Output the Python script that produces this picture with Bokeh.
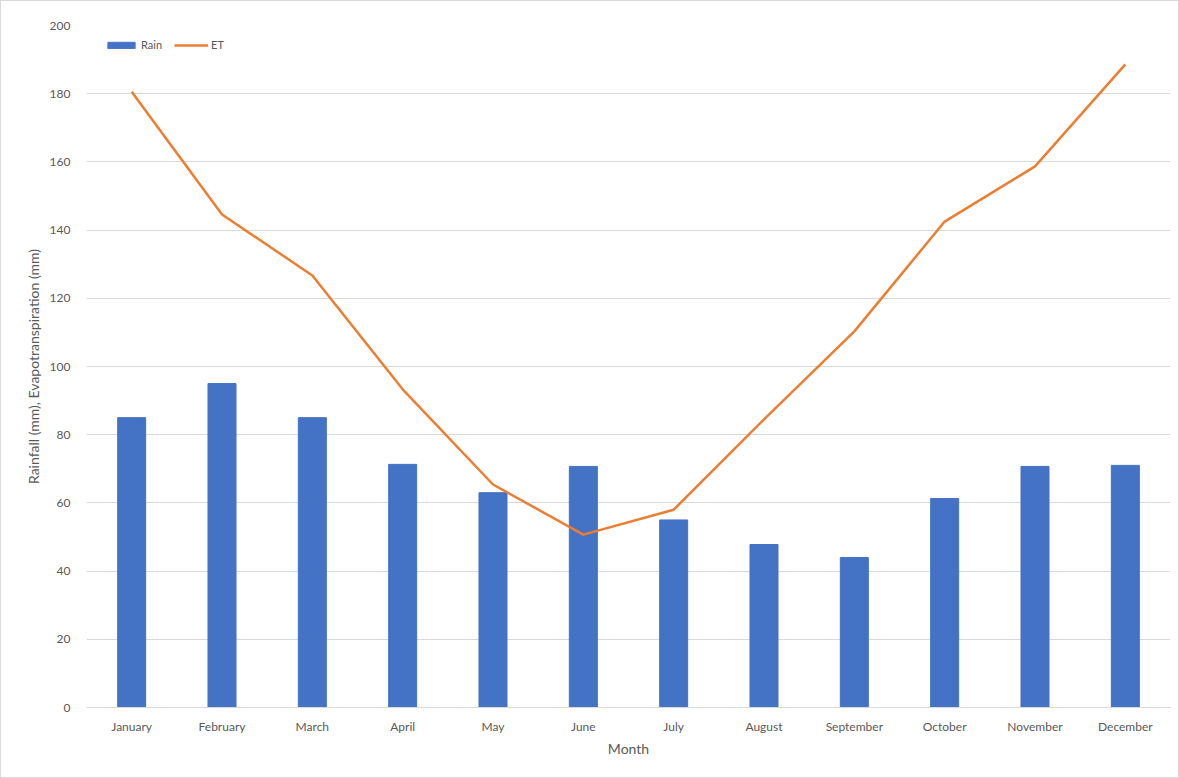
from bokeh.plotting import figure
from bokeh.models import FactorRange, Legend, LegendItem, SingleIntervalTicker, ColumnDataSource
from bokeh.embed import file_html
from bokeh.resources import INLINE

months = ["January", "February", "March", "April", "May", "June", "July",
          "August", "September", "October", "November", "December"]
rain = [85, 95, 85, 71.3, 63, 70.7, 55, 47.8, 44, 61.3, 70.7, 71]
et = [180.6, 144.6, 126.7, 93.3, 65.4, 50.7, 58, 84.5, 110.3, 142.5, 158.7, 188.6]

src = ColumnDataSource(dict(month=months, rain=rain, et=et))

FONT = "Lato"
GRAY = "#595959"

p = figure(width=1179, height=778, x_range=FactorRange(*months, range_padding=0),
           y_range=(0, 200), output_backend="svg", toolbar_location=None,
           min_border_left=85, min_border_right=10, min_border_top=24, min_border_bottom=72)
p.styles = {"border": "1px solid #d9d9d9", "box-sizing": "border-box"}
p.x_range.range_padding = 0

bars = p.vbar(x="month", top="rain", width=0.31, source=src, color="#4472C4")
line = p.line(x="month", y="et", source=src, color="#ED7D31", line_width=2.5)

p.yaxis.ticker = SingleIntervalTicker(interval=20)
p.ygrid.grid_line_color = "#d9d9d9"
p.xgrid.grid_line_color = None
p.outline_line_color = None

for ax in (p.xaxis[0], p.yaxis[0]):
    ax.major_label_text_font = FONT
    ax.major_label_text_font_size = "12px"
    ax.major_label_text_color = GRAY
    ax.axis_label_text_font = FONT
    ax.axis_label_text_font_size = "14px"
    ax.axis_label_text_color = GRAY
    ax.axis_label_text_font_style = "normal"
    ax.major_tick_line_color = None
    ax.minor_tick_line_color = None

p.yaxis.axis_line_color = None
p.xaxis.axis_line_color = "#d9d9d9"
p.yaxis.axis_label = "Rainfall (mm), Evapotranspiration (mm)"
p.xaxis.axis_label = "Month"
p.yaxis.major_label_standoff = 10
p.xaxis.major_label_standoff = 5
p.xaxis.axis_label_standoff = 3
p.yaxis.axis_label_standoff = 5

legend = Legend(items=[LegendItem(label="Rain", renderers=[bars]),
                       LegendItem(label="ET", renderers=[line])],
                orientation="horizontal", location=(18, 656),
                background_fill_alpha=0, border_line_color=None,
                label_text_font=FONT, label_text_font_size="11px", label_text_color=GRAY,
                glyph_width=34, glyph_height=8, spacing=12, label_standoff=3, padding=4, margin=0)
p.add_layout(legend)

open("out.html", "w").write(file_html(p, INLINE))
